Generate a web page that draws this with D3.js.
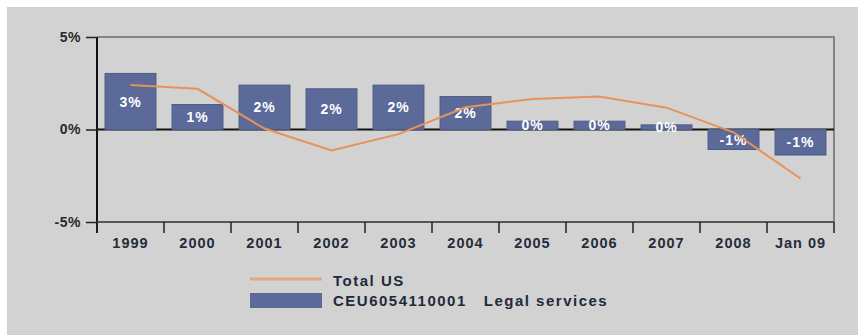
<!DOCTYPE html>
<html>
<head>
<meta charset="utf-8">
<script src="https://cdn.jsdelivr.net/npm/d3@7"></script>
<style>
  html, body { margin: 0; padding: 0; background: #ffffff; }
  svg { display: block; font-family: "Liberation Sans", Arial, sans-serif; font-weight: bold; }
</style>
</head>
<body>
<div id="chart"></div>
<script>
// Legal services employment growth vs total US, year over year.
const categories = ["1999", "2000", "2001", "2002", "2003", "2004", "2005", "2006", "2007", "2008", "Jan 09"];
const legal_values = [3.03, 1.35, 2.4, 2.2, 2.4, 1.78, 0.45, 0.45, 0.25, -1.08, -1.38];
const total_us_values = [2.4, 2.2, 0.05, -1.13, -0.25, 1.2, 1.65, 1.78, 1.18, -0.15, -2.65];
const y_ticks = [-5, 0, 5];
const legend_labels = ["Total US", "CEU6054110001   Legal services"];

const width = 858;
const height = 335;
const plot = { left: 97, right: 834, top: 37, bottom: 222 };
const bar_color = "#5b6a98";
const line_color = "#e6925a";

const svg = d3.select("#chart").append("svg")
  .attr("width", width)
  .attr("height", height);

svg.append("rect")
  .attr("x", 7).attr("y", 7)
  .attr("width", width - 7).attr("height", height - 7)
  .attr("fill", "#d2d2d2");

const x = d3.scaleBand()
  .domain(categories)
  .range([plot.left, plot.right])
  .paddingInner(0.24)
  .paddingOuter(0.12);
const y = d3.scaleLinear()
  .domain([-5, 5])
  .range([plot.bottom, plot.top]);

// frame: gray top and right edges
svg.append("path")
  .attr("d", `M${plot.left},${plot.top}H${plot.right}V${plot.bottom}`)
  .attr("fill", "none")
  .attr("stroke", "#858585")
  .attr("stroke-width", 2);

// zero line
svg.append("line")
  .attr("x1", plot.left).attr("x2", plot.right)
  .attr("y1", y(0)).attr("y2", y(0))
  .attr("stroke", "#111")
  .attr("stroke-width", 2);

// bars
svg.append("g")
  .selectAll("rect")
  .data(legal_values)
  .join("rect")
  .attr("x", (d, i) => x(categories[i]))
  .attr("width", x.bandwidth())
  .attr("y", (d) => Math.min(y(d), y(0)))
  .attr("height", (d) => Math.abs(y(d) - y(0)))
  .attr("fill", bar_color)
  .attr("stroke", "#4d5b86")
  .attr("stroke-width", 1);

svg.append("g")
  .selectAll("text")
  .data(legal_values)
  .join("text")
  .attr("x", (d, i) => x(categories[i]) + x.bandwidth() / 2)
  .attr("y", (d) => (y(d) + y(0)) / 2)
  .attr("dy", "0.36em")
  .attr("text-anchor", "middle")
  .attr("font-size", 14)
  .attr("letter-spacing", 1)
  .attr("fill", "#ffffff")
  .text((d) => `${Math.round(d)}%`);

// total US line
const line = d3.line()
  .x((d, i) => x(categories[i]) + x.bandwidth() / 2)
  .y((d) => y(d));
svg.append("path")
  .attr("d", line(total_us_values))
  .attr("fill", "none")
  .attr("stroke", line_color)
  .attr("stroke-width", 2);

// y axis
const y_axis = svg.append("g")
  .attr("transform", `translate(${plot.left},0)`)
  .call(d3.axisLeft(y).tickValues(y_ticks).tickSize(11).tickPadding(5).tickFormat((d) => `${d}%`));
y_axis.select(".domain")
  .attr("d", `M0,${plot.top}V${plot.bottom + 11}`)
  .attr("stroke", "#111")
  .attr("stroke-width", 2);
y_axis.selectAll(".tick line").attr("stroke", "#222").attr("stroke-width", 1.5);
y_axis.selectAll(".tick text")
  .attr("font-size", 14)
  .attr("letter-spacing", 0.5)
  .attr("fill", "#2a2a2a");

// x axis: ticks sit between categories
const boundaries = categories.map((c) => x(c) - x.step() * x.paddingInner() / 2);
boundaries.push(plot.right);
svg.append("line")
  .attr("x1", plot.left).attr("x2", plot.right)
  .attr("y1", plot.bottom).attr("y2", plot.bottom)
  .attr("stroke", "#555")
  .attr("stroke-width", 2);
svg.append("g")
  .selectAll("line")
  .data(boundaries)
  .join("line")
  .attr("x1", (d) => d).attr("x2", (d) => d)
  .attr("y1", plot.bottom).attr("y2", plot.bottom + 11)
  .attr("stroke", "#222")
  .attr("stroke-width", 1.5);
svg.append("g")
  .selectAll("text")
  .data(categories)
  .join("text")
  .attr("x", (d) => x(d) + x.bandwidth() / 2)
  .attr("y", 248)
  .attr("text-anchor", "middle")
  .attr("font-size", 14.5)
  .attr("letter-spacing", 1)
  .attr("fill", "#262c3a")
  .text((d) => d);

// legend
svg.append("line")
  .attr("x1", 250).attr("x2", 322)
  .attr("y1", 279).attr("y2", 279)
  .attr("stroke", "#e8a67c")
  .attr("stroke-width", 3);
svg.append("rect")
  .attr("x", 250).attr("y", 293)
  .attr("width", 72).attr("height", 15)
  .attr("fill", bar_color);
svg.append("g")
  .selectAll("text")
  .data(legend_labels)
  .join("text")
  .attr("x", 333)
  .attr("y", (d, i) => 286 + i * 20)
  .attr("font-size", 15)
  .attr("letter-spacing", 1.5)
  .attr("fill", "#222a3a")
  .style("white-space", "pre")
  .text((d) => d);
</script>
</body>
</html>
